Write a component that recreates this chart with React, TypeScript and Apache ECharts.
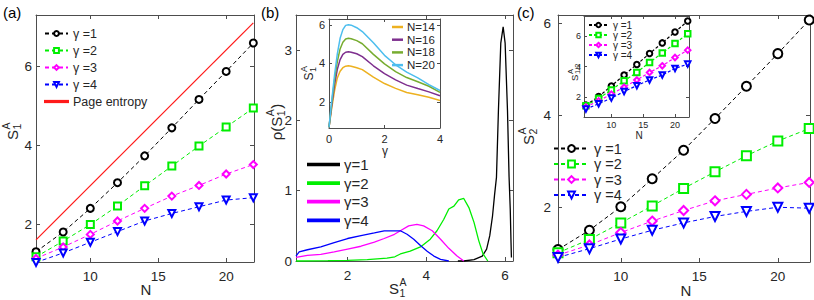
import React, { useEffect, useRef } from 'react';
import * as echarts from 'echarts';

// ---------- data ----------
const N_VALUES = [6, 8, 10, 12, 14, 16, 18, 20, 22];
// (a) S_1^A vs N
const A_G1 = [1.30, 1.80, 2.40, 3.05, 3.73, 4.44, 5.16, 5.87, 6.59];
const A_G2 = [1.17, 1.57, 1.99, 2.46, 2.97, 3.47, 3.98, 4.46, 4.94];
const A_G3 = [1.13, 1.42, 1.74, 2.08, 2.40, 2.71, 2.98, 3.27, 3.51];
const A_G4 = [1.03, 1.27, 1.54, 1.81, 2.08, 2.27, 2.44, 2.61, 2.67];
const PAGE_N = [6, 22];
const PAGE_S = [1.6, 7.1];

// (b) distributions rho(S_1^A)
const B1_X = [4.8, 4.95, 5.21, 5.42, 5.53, 5.61, 5.68, 5.73, 5.78, 5.83, 5.89, 5.95, 6.0, 6.06, 6.1, 6.13, 6.15, 6.16];
const B1_Y = [0, 0, 0.02, 0.07, 0.17, 0.36, 0.64, 0.93, 1.19, 2.14, 3.1, 3.33, 3.1, 2.14, 1.2, 0.74, 0.26, 0.05];
const B2_X = [0.69, 1.5, 2.0, 2.5, 3.0, 3.2, 3.34, 3.59, 3.85, 4.1, 4.27, 4.44, 4.57, 4.7, 4.82, 4.95, 5.08, 5.21, 5.33, 5.44, 5.56];
const B2_Y = [0, 0.005, 0.01, 0.02, 0.04, 0.06, 0.1, 0.14, 0.2, 0.31, 0.43, 0.59, 0.74, 0.78, 0.87, 0.89, 0.76, 0.55, 0.29, 0.1, 0];
const B3_X = [0.69, 0.98, 1.32, 1.66, 2.0, 2.34, 2.68, 2.93, 3.19, 3.34, 3.55, 3.76, 3.93, 4.15, 4.36, 4.57, 4.78, 4.95];
const B3_Y = [0.05, 0.08, 0.095, 0.13, 0.17, 0.21, 0.27, 0.32, 0.38, 0.43, 0.5, 0.52, 0.5, 0.43, 0.31, 0.18, 0.07, 0];
const B4_X = [0.69, 0.77, 0.98, 1.32, 1.66, 2.0, 2.34, 2.68, 2.93, 3.19, 3.34, 3.51, 3.68, 3.85, 4.02, 4.19, 4.36, 4.57];
const B4_Y = [0.07, 0.13, 0.16, 0.2, 0.26, 0.32, 0.36, 0.4, 0.43, 0.43, 0.43, 0.38, 0.31, 0.22, 0.14, 0.07, 0.024, 0];

// (b) inset: S_1^A vs gamma
const INSET_GAMMA = [0, 0.1, 0.2, 0.3, 0.4, 0.5, 0.6, 0.7, 0.8, 1.0, 1.2, 1.6, 2.0, 2.4, 2.8, 3.2, 3.6, 4.0];
const BI_N14 = [0.69, 1.7, 2.6, 3.25, 3.6, 3.78, 3.86, 3.88, 3.86, 3.78, 3.68, 3.29, 2.96, 2.71, 2.5, 2.38, 2.25, 2.08];
const BI_N16 = [0.69, 1.85, 2.9, 3.7, 4.2, 4.47, 4.58, 4.6, 4.58, 4.5, 4.35, 3.88, 3.47, 3.15, 2.88, 2.7, 2.53, 2.33];
const BI_N18 = [0.69, 2.0, 3.15, 4.1, 4.75, 5.1, 5.27, 5.3, 5.28, 5.18, 5.02, 4.47, 3.98, 3.58, 3.27, 3.05, 2.82, 2.5];
const BI_N20 = [0.69, 2.1, 3.4, 4.5, 5.3, 5.75, 5.97, 6.0, 5.98, 5.85, 5.65, 5.07, 4.42, 3.93, 3.55, 3.25, 2.9, 2.6];

// (c) S_2^A vs N
const C_G1 = [1.08, 1.50, 2.01, 2.62, 3.24, 3.93, 4.63, 5.34, 6.07];
const C_G2 = [1.01, 1.30, 1.66, 2.03, 2.41, 2.77, 3.12, 3.44, 3.71];
const C_G3 = [0.96, 1.18, 1.45, 1.70, 1.93, 2.14, 2.28, 2.42, 2.54];
const C_G4 = [0.91, 1.10, 1.31, 1.50, 1.66, 1.80, 1.91, 2.00, 1.98];
// (c) inset S_{1/2}^A vs N
const CI_G1 = [1.5, 2.06, 2.75, 3.46, 4.15, 4.86, 5.55, 6.26, 6.97];
const CI_G2 = [1.46, 1.94, 2.49, 3.08, 3.63, 4.28, 4.9, 5.51, 6.15];
const CI_G3 = [1.38, 1.78, 2.22, 2.67, 3.14, 3.63, 4.06, 4.6, 5.08];
const CI_G4 = [1.25, 1.59, 1.96, 2.39, 2.77, 3.14, 3.46, 3.89, 4.17];

// tick values
const TICKS_N = [10, 15, 20];
const TICKS_246 = [2, 4, 6];
const TICKS_B_X = [2, 4, 6];
const TICKS_B_Y = [0, 1, 2, 3];
const TICKS_BI_X = [0, 2, 4];

// legend names
const NAMES_A = ['γ =1', 'γ =2', 'γ =3', 'γ =4'];
const NAMES_B = ['γ=1', 'γ=2', 'γ=3', 'γ=4'];
const NAMES_CI = ['γ\u00a0=1', 'γ\u00a0=2', 'γ\u00a0=3', 'γ\u00a0=4'];
const NAMES_BI = ['N=14', 'N=16', 'N=18', 'N=20'];

// ---------- styling ----------
const FONT = '"Liberation Sans", Arial, sans-serif';
const AXIS_COLOR = '#4d4d4d';
const LABEL_COLOR = '#262626';
const GAMMA_COLORS = ['#000000', '#00ee00', '#ff00ff', '#0000ff'];
const GAMMA_SYMBOLS = ['emptyCircle', 'emptyRect', 'emptyDiamond', 'emptyTriangle'];
const GAMMA_ROT = [0, 0, 0, 180];
const INSET_COLORS = ['#EDB120', '#7E2F8E', '#77AC30', '#4DBEEE'];
const PAGE_COLOR = '#ff1a1a';

const zip = (xs: number[], ys: number[]) => xs.map((x, i) => [x, ys[i]]);

let measureCtx: CanvasRenderingContext2D | null = null;
const measure = (t: string, size: number) => {
  if (!measureCtx) measureCtx = document.createElement('canvas').getContext('2d');
  measureCtx!.font = `${size}px "Liberation Sans", Arial, sans-serif`;
  return measureCtx!.measureText(t).width;
};

const txt = (text: string, x: number, y: number, size: number, align = 'left', color = LABEL_COLOR) => ({
  type: 'text',
  x,
  y,
  silent: true,
  style: {
    text,
    fontSize: size,
    fontFamily: FONT,
    fill: color,
    textAlign: align,
    textVerticalAlign: 'middle',
    align,
    verticalAlign: 'middle',
  },
});

function scriptLabel(
  cx: number,
  cy: number,
  main: string,
  sub: string,
  sup: string,
  tail: string,
  size: number,
  subSize: number,
  rotate: boolean
) {
  const w1 = measure(main, size);
  const w2 = Math.max(measure(sub, subSize), measure(sup, subSize));
  const w3 = tail ? measure(tail, size) : 0;
  const W = w1 + 1 + w2 + w3;
  const x0 = -W / 2;
  const children: any[] = [
    txt(main, x0, 0, size),
    txt(sup, x0 + w1 + 0.5, -size * 0.4, subSize),
    txt(sub, x0 + w1 + 0.5, size * 0.32, subSize),
  ];
  if (tail) children.push(txt(tail, x0 + w1 + 1 + w2, 0, size));
  return { type: 'group', x: cx, y: cy, rotation: rotate ? Math.PI / 2 : 0, children };
}

const LINE_ICON = 'path://M0,0H30V1.6H0Z';

export default function App() {
  const ref = useRef<HTMLDivElement>(null);

  useEffect(() => {
    if (!ref.current) return;
    const chart = echarts.init(ref.current, undefined, { renderer: 'svg' });

    const grids: any[] = [];
    const xAxes: any[] = [];
    const yAxes: any[] = [];
    const series: any[] = [];

    const axis = (
      gridIndex: number,
      position: string,
      min: number,
      max: number,
      ticks: number[],
      showLabel: boolean,
      fs: number,
      margin: number,
      tickLen: number
    ) => ({
      type: 'value',
      gridIndex,
      position,
      min,
      max,
      axisLine: { show: true, onZero: false, lineStyle: { color: AXIS_COLOR, width: 1 } },
      axisTick: { show: true, inside: true, length: tickLen, customValues: ticks, lineStyle: { color: AXIS_COLOR, width: 1 } },
      axisLabel: { show: showLabel, customValues: ticks, fontSize: fs, color: LABEL_COLOR, fontFamily: FONT, margin },
      splitLine: { show: false },
      axisPointer: { show: false },
    });

    const panel = (
      g: any,
      xr: [number, number],
      yr: [number, number],
      xt: number[],
      yt: number[],
      fs: number,
      xm: number,
      ym: number,
      tl: number
    ) => {
      const gi = grids.length;
      grids.push({ containLabel: false, outerBoundsMode: 'none', ...g });
      const xi = xAxes.length;
      xAxes.push(axis(gi, 'bottom', xr[0], xr[1], xt, true, fs, xm, tl));
      xAxes.push(axis(gi, 'top', xr[0], xr[1], xt, false, fs, xm, tl));
      const yi = yAxes.length;
      yAxes.push(axis(gi, 'left', yr[0], yr[1], yt, true, fs, ym, tl));
      yAxes.push(axis(gi, 'right', yr[0], yr[1], yt, false, fs, ym, tl));
      return [xi, yi];
    };

    const line = (
      name: string,
      axes: number[],
      data: number[][],
      color: string,
      symbol: string,
      size: number,
      dashed: any,
      width: number,
      rot = 0
    ) => ({
      type: 'line',
      name,
      xAxisIndex: axes[0],
      yAxisIndex: axes[1],
      data,
      symbol,
      symbolSize: size,
      symbolRotate: rot,
      showSymbol: symbol !== 'none',
      clip: false,
      lineStyle: { color, width, type: dashed },
      itemStyle: { color, borderColor: color, borderWidth: 1 },
      emphasis: { disabled: true },
      silent: true,
      animation: false,
    });

    // (a)
    const pA = panel({ left: 36, top: 15, width: 218, height: 247 }, [6, 22.05], [1.04, 7.3], TICKS_N, TICKS_246, 13.5, 7, 4, 4);
    series.push(line('Page entropy', pA, zip(PAGE_N, PAGE_S), PAGE_COLOR, 'none', 0, 'solid', 1.3));
    [A_G1, A_G2, A_G3, A_G4].forEach((d, i) => {
      series.push(line(NAMES_A[i], pA, zip(N_VALUES, d), GAMMA_COLORS[i], GAMMA_SYMBOLS[i], 7, [4, 3], 1, GAMMA_ROT[i]));
    });

    // (b)
    const pB = panel({ left: 296, top: 15, width: 217, height: 246 }, [0.69, 6.2], [0, 3.5], TICKS_B_X, TICKS_B_Y, 13.5, 7, 4, 4);
    [zip(B1_X, B1_Y), zip(B2_X, B2_Y), zip(B3_X, B3_Y), zip(B4_X, B4_Y)].forEach((d, i) => {
      series.push(line(NAMES_B[i], pB, d, GAMMA_COLORS[i], 'none', 0, 'solid', 1.3));
    });

    // (b) inset
    const pBI = panel(
      { left: 329, top: 19, width: 111, height: 109, show: true, backgroundColor: '#fff', borderWidth: 0 },
      [0, 4],
      [0.66, 6.3],
      TICKS_BI_X,
      TICKS_246,
      11,
      5,
      4,
      3
    );
    [BI_N14, BI_N16, BI_N18, BI_N20].forEach((d, i) => {
      series.push(line(NAMES_BI[i], pBI, zip(INSET_GAMMA, d), INSET_COLORS[i], 'none', 0, 'solid', 1.5));
    });

    // (c)
    const pC = panel({ left: 558, top: 15, width: 252, height: 247 }, [6, 22.05], [0.81, 6.18], TICKS_N, TICKS_246, 13.5, 7, 7, 4);
    [C_G1, C_G2, C_G3, C_G4].forEach((d, i) => {
      series.push(line(NAMES_A[i], pC, zip(N_VALUES, d), GAMMA_COLORS[i], GAMMA_SYMBOLS[i], 9, [4, 3], 1, GAMMA_ROT[i]));
    });

    // (c) inset
    const pCI = panel(
      { left: 584, top: 16, width: 105, height: 101, show: true, backgroundColor: '#fff', borderWidth: 0 },
      [5.7, 22.2],
      [0.73, 7.3],
      TICKS_N,
      TICKS_246,
      9,
      3,
      3,
      3
    );
    [CI_G1, CI_G2, CI_G3, CI_G4].forEach((d, i) => {
      series.push(line(NAMES_CI[i], pCI, zip(N_VALUES, d), GAMMA_COLORS[i], GAMMA_SYMBOLS[i], 5.5, [3, 2], 1.2, GAMMA_ROT[i]));
    });

    const legendBase = {
      orient: 'vertical',
      padding: 0,
      selectedMode: false,
      backgroundColor: 'transparent',
    };

    const legends = [
      {
        ...legendBase,
        left: 44,
        top: 27,
        itemWidth: 23,
        itemHeight: 6,
        itemGap: 4,
        textStyle: { fontSize: 12.5, color: LABEL_COLOR, fontFamily: FONT },
        data: [...NAMES_A, { name: 'Page entropy', icon: LINE_ICON }],
      },
      {
        ...legendBase,
        left: 307,
        top: 157,
        itemWidth: 31,
        itemHeight: 10,
        itemGap: 3.6,
        icon: LINE_ICON,
        textStyle: { fontSize: 15, color: LABEL_COLOR, fontFamily: FONT },
        data: NAMES_B,
      },
      {
        ...legendBase,
        left: 392,
        top: 21,
        itemWidth: 9,
        itemHeight: 8,
        itemGap: 0.7,
        icon: LINE_ICON,
        textStyle: { fontSize: 11.5, color: LABEL_COLOR, fontFamily: FONT },
        data: NAMES_BI,
      },
      {
        ...legendBase,
        left: 553,
        top: 141,
        itemWidth: 35,
        itemHeight: 8.5,
        itemGap: 0.5,
        textStyle: { fontSize: 14.5, color: LABEL_COLOR, fontFamily: FONT },
        data: NAMES_A,
      },
      {
        ...legendBase,
        left: 588,
        top: 20,
        itemWidth: 19,
        itemHeight: 5.5,
        itemGap: 0,
        textStyle: { fontSize: 10, color: LABEL_COLOR, fontFamily: FONT },
        data: NAMES_CI,
      },
    ];

    const graphics: any[] = [
      txt('(a)', 3, 12, 15, 'left', '#000'),
      txt('(b)', 261, 12, 15, 'left', '#000'),
      txt('(c)', 517, 12, 15, 'left', '#000'),
      // axis titles
      scriptLabel(12, 131, 'S', '1', 'A', '', 15, 10.5, true),
      txt('N', 146, 289, 15, 'center'),
      scriptLabel(276, 122, 'ρ(S', '1', 'A', ')', 15, 10.5, true),
      scriptLabel(398, 288, 'S', '1', 'A', '', 15, 10.5, false),
      scriptLabel(309, 73, 'S', '1', 'A', '', 12, 9, true),
      txt('γ', 385, 151, 12, 'center'),
      scriptLabel(528, 136, 'S', '2', 'A', '', 15, 10.5, true),
      txt('N', 686, 290, 15, 'center'),
      txt('N', 639, 135, 10, 'center'),
      scriptLabel(574, 72, 'S', '1/2', 'A', '', 9.5, 7.5, true),
    ];

    chart.setOption({
      animation: false,
      backgroundColor: '#ffffff',
      textStyle: { fontFamily: FONT },
      tooltip: { show: false },
      grid: grids,
      xAxis: xAxes,
      yAxis: yAxes,
      legend: legends,
      series,
      graphic: { elements: graphics },
    });

    return () => chart.dispose();
  }, []);

  return <div ref={ref} style={{ position: 'absolute', left: 0, top: 0, width: 814, height: 300 }} />;
}
